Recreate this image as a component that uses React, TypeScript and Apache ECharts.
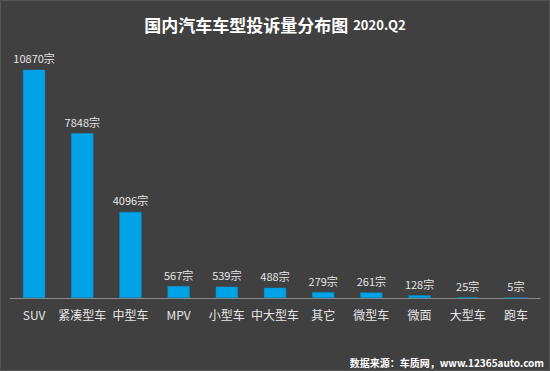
import React, { useEffect, useRef } from "react";
import * as echarts from "echarts";

const categories = ["SUV", "紧凑型车", "中型车", "MPV", "小型车", "中大型车", "其它", "微型车", "微面", "大型车", "跑车"];
const values = [10870, 7848, 4096, 567, 539, 488, 279, 261, 128, 25, 5];
const titleMain = "国内汽车车型投诉量分布图";
const titleSub = "2020.Q2";
const sourceText = "数据来源：车质网，www.12365auto.com";

const FONT = "'Noto Sans CJK SC', 'Noto Sans', sans-serif";

export default function App() {
  const ref = useRef<HTMLDivElement>(null);
  useEffect(() => {
    if (!ref.current) return;
    const chart = echarts.init(ref.current, null, { renderer: "svg" });
    chart.setOption({
      animation: false,
      backgroundColor: "#404040",
      title: {
        text: `{a|${titleMain}} {b|${titleSub}}`,
        left: "center",
        top: 10,
        textStyle: {
          rich: {
            a: { fontSize: 17, fontWeight: "bold", color: "#ffffff", fontFamily: FONT },
            b: { fontSize: 13, fontWeight: "bold", color: "#ffffff", fontFamily: FONT },
          },
        },
      },
      graphic: [
        {
          type: "rect",
          shape: { x: 0.5, y: 0.5, width: 549, height: 370 },
          style: { fill: "none", stroke: "#555555", lineWidth: 1 },
        },
        {
          type: "text",
          right: 6,
          bottom: 4,
          style: {
            text: sourceText,
            fill: "#ffffff",
            font: `bold 10px ${FONT}`,
          },
        },
      ],
      grid: { left: 10, right: 10, top: 46, bottom: 73, containLabel: false },
      xAxis: {
        type: "category",
        data: categories,
        axisLine: { lineStyle: { color: "#8a8a8a", width: 1 } },
        axisTick: { show: false },
        axisLabel: { color: "#e6e6e6", fontSize: 12, fontFamily: FONT, margin: 10, interval: 0 },
      },
      yAxis: {
        type: "value",
        min: 0,
        max: 12000,
        show: false,
        splitLine: { show: false },
      },
      series: [
        {
          type: "bar",
          data: values,
          barWidth: "46%",
          itemStyle: { color: "#00a3e8", borderColor: "#0a8fc8", borderWidth: 0.5 },
          label: {
            show: true,
            position: "top",
            distance: 6,
            formatter: "{c}宗",
            color: "#e6e6e6",
            fontSize: 11,
            fontFamily: FONT,
          },
        },
      ],
    });
    return () => chart.dispose();
  }, []);
  return <div ref={ref} style={{ position: "fixed", left: 0, top: 0, width: 550, height: 371 }} />;
}
